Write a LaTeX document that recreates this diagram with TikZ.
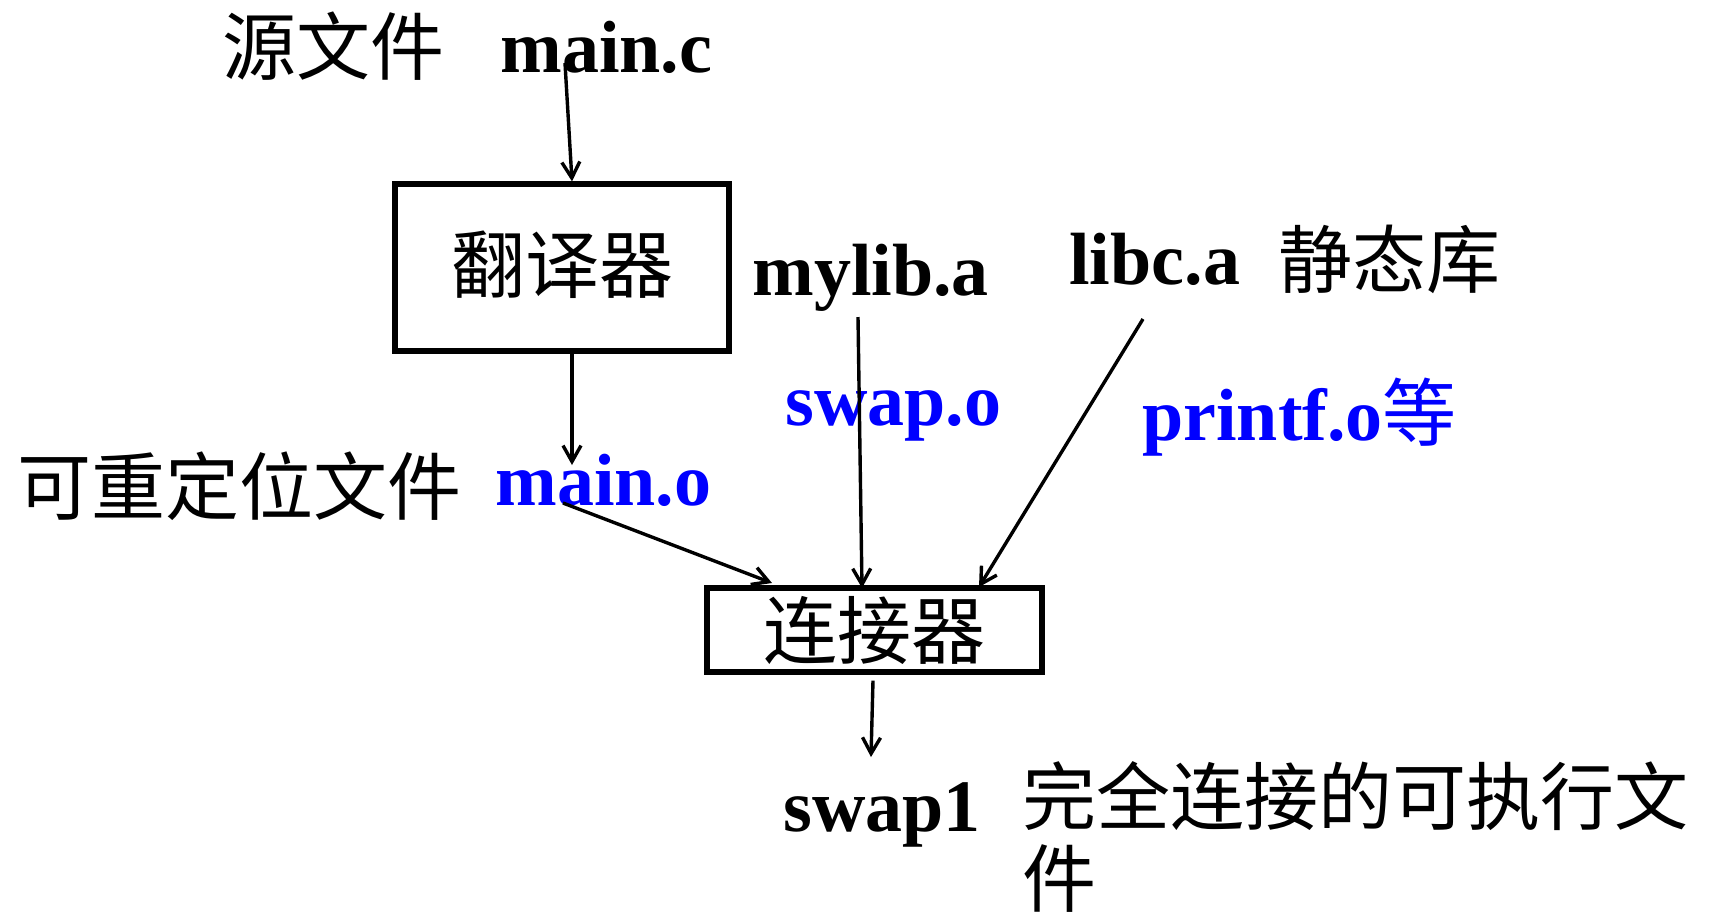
\documentclass[tikz,border=0pt]{standalone}
\usepackage{fontspec}
\setmainfont{Liberation Serif}
\newfontfamily\cjk{Noto Sans CJK SC}
\usetikzlibrary{positioning,calc,arrows.meta}
\definecolor{objblue}{RGB}{0,0,255}

\tikzset{
  file/.style={inner sep=0pt, font=\fontsize{37}{41}\selectfont\bfseries},
  cjklabel/.style={inner sep=0pt, align=left, font=\fontsize{37}{41}\selectfont\cjk},
  tool/.style={draw, line width=2.6pt, inner sep=0pt, font=\fontsize{37}{41}\selectfont\cjk},
  flow/.style={line width=1.7pt, -{Straight Barb[length=8pt,width=9pt]}},
}

\begin{document}
\begin{tikzpicture}[x=0.5pt, y=-0.5pt]
    \useasboundingbox (0,0) rectangle (1714,918);

    % Source file
    \node[cjklabel] (src) at (333,46) {源文件};
    \node[file, anchor=base west] (mainc) at (500,72) {main.c};

    % Translator
    \node[tool, minimum width=167pt, minimum height=83.5pt, text depth=6pt] (trans) at (562,267.5) {翻译器};

    % Libraries
    \node[file, anchor=base west] (mylib) at (752,295) {mylib.a};
    \node[file, anchor=base west] (libc) at (1069,284) {libc.a};
    \node[cjklabel] (static) at (1389,259) {静态库};
    \node[file, anchor=base west, text=objblue] (swapo) at (785,425) {swap.o};
    \node[file, anchor=base west, text=objblue] (printfo) at (1142,440) {printf.o{\mdseries\cjk 等}};

    % Relocatable file
    \node[cjklabel] (reloc) at (240,486) {可重定位文件};
    \node[file, anchor=base west, text=objblue] (maino) at (495,505) {main.o};

    % Linker
    \node[tool, minimum width=167.5pt, minimum height=42pt] (link) at (874.5,630) {连接器};

    % Executable
    \node[file, anchor=base west] (swapone) at (783,831) {swap1};
    \node[cjklabel, anchor=north west] (exec) at (1022,761) {完全连接的可执行文\\件};

    % Free ends of the connectors
    \coordinate (c-out) at (565,63);
    \coordinate (o-in) at (572,465);
    \coordinate (o-out) at (563,503);
    \coordinate (m-out) at (858,317);
    \coordinate (l-out) at (1143,319);
    \coordinate (x-in) at (871,757);

    \draw[flow] (c-out) -- (trans.north -| 572,0);
    \draw[flow] (trans.south -| 572,0) -- (o-in);
    \draw[flow] (o-out) -- (772,583);
    \draw[flow] (m-out) -- (862,588);
    \draw[flow] (l-out) -- (979,587);
    \draw[flow] (link.south -| 873,0) ++(0,6) -- (x-in);
\end{tikzpicture}
\end{document}
